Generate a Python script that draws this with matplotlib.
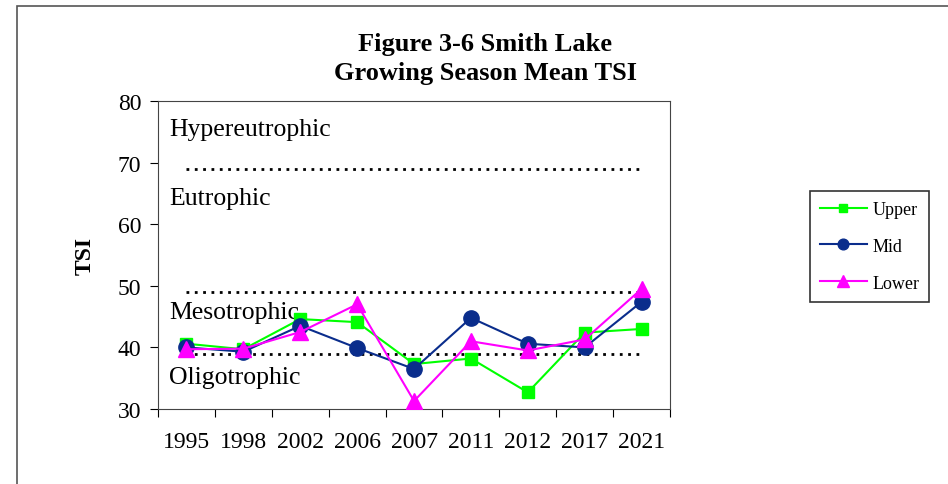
import numpy as np
import matplotlib.pyplot as plt
from matplotlib.patches import Rectangle

plt.rcParams['font.family'] = ['Liberation Serif', 'DejaVu Serif']

years = ['1995', '1998', '2002', '2006', '2007', '2011', '2012', '2017', '2021']
upper = [40.6, 39.7, 44.6, 44.1, 37.3, 38.2, 32.7, 42.4, 43.0]
mid = [40.0, 39.3, 43.5, 39.9, 36.5, 44.8, 40.6, 40.0, 47.4]
lower = [39.7, 39.8, 42.5, 47.0, 31.3, 41.0, 39.5, 41.3, 49.5]

zone_limits = [69, 49, 39]
zone_names = ['Hypereutrophic', 'Eutrophic', 'Mesotrophic', 'Oligotrophic']
zone_label_y = [75.5, 64.3, 45.8, 35.2]

fig = plt.figure(figsize=(9.48, 4.85), dpi=100)
ax = fig.add_axes([0.1667, 0.1546, 0.5401, 0.6351])

# outer chart border
fig.patches.append(Rectangle((17 / 948, -0.05), 1.0, 1 - 7 / 485 + 0.05,
                             transform=fig.transFigure, fill=False,
                             edgecolor='#555555', linewidth=1.2))

x = np.arange(len(years))

for yv in zone_limits:
    ax.plot([x[0], x[-1]], [yv, yv], color='black', linestyle=(0, (1, 2)),
            linewidth=2, zorder=1)
for name, yv in zip(zone_names, zone_label_y):
    ax.text(-0.3, yv, name, fontsize=18.5, va='center', ha='left')

ax.plot(x, upper, color='#00ff00', marker='s', markersize=9, linewidth=1.5,
        label='Upper', zorder=3)
ax.plot(x, mid, color='#0a2d8c', marker='o', markersize=11, linewidth=1.5,
        label='Mid', zorder=4)
ax.plot(x, lower, color='#ff00ff', marker='^', markersize=12, linewidth=1.5,
        label='Lower', zorder=5)

ax.set_xlim(-0.5, len(years) - 0.5)
ax.set_ylim(30, 80)
ax.set_yticks(range(30, 81, 10))
ax.set_xticks(np.arange(-0.5, len(years), 1.0))
ax.set_xticklabels([])
ax.set_xticks(x, minor=True)
ax.set_xticklabels(years, minor=True)
ax.tick_params(axis='x', which='minor', length=0, pad=16, labelsize=17)
ax.tick_params(axis='x', which='major', length=6, direction='out')
ax.tick_params(axis='y', length=6, direction='out', labelsize=17, pad=6)
for sp in ax.spines.values():
    sp.set_color('#444444')

ax.set_ylabel('TSI', fontsize=17, fontweight='bold', labelpad=16)
fig.text(0.512, 0.878, 'Figure 3-6 Smith Lake\nGrowing Season Mean TSI',
         ha='center', va='center', fontsize=19, fontweight='bold',
         linespacing=1.35)

leg = fig.legend(loc='upper left', bbox_to_anchor=(810 / 948, 1 - 192 / 485),
                 borderaxespad=0, frameon=True, fancybox=False,
                 edgecolor='black', fontsize=13, markerscale=0.7,
                 handlelength=2.6, handletextpad=0.3, labelspacing=1.1,
                 borderpad=0.55)
leg.get_frame().set_linewidth(1.2)

fig.savefig('out.png', dpi=100)
